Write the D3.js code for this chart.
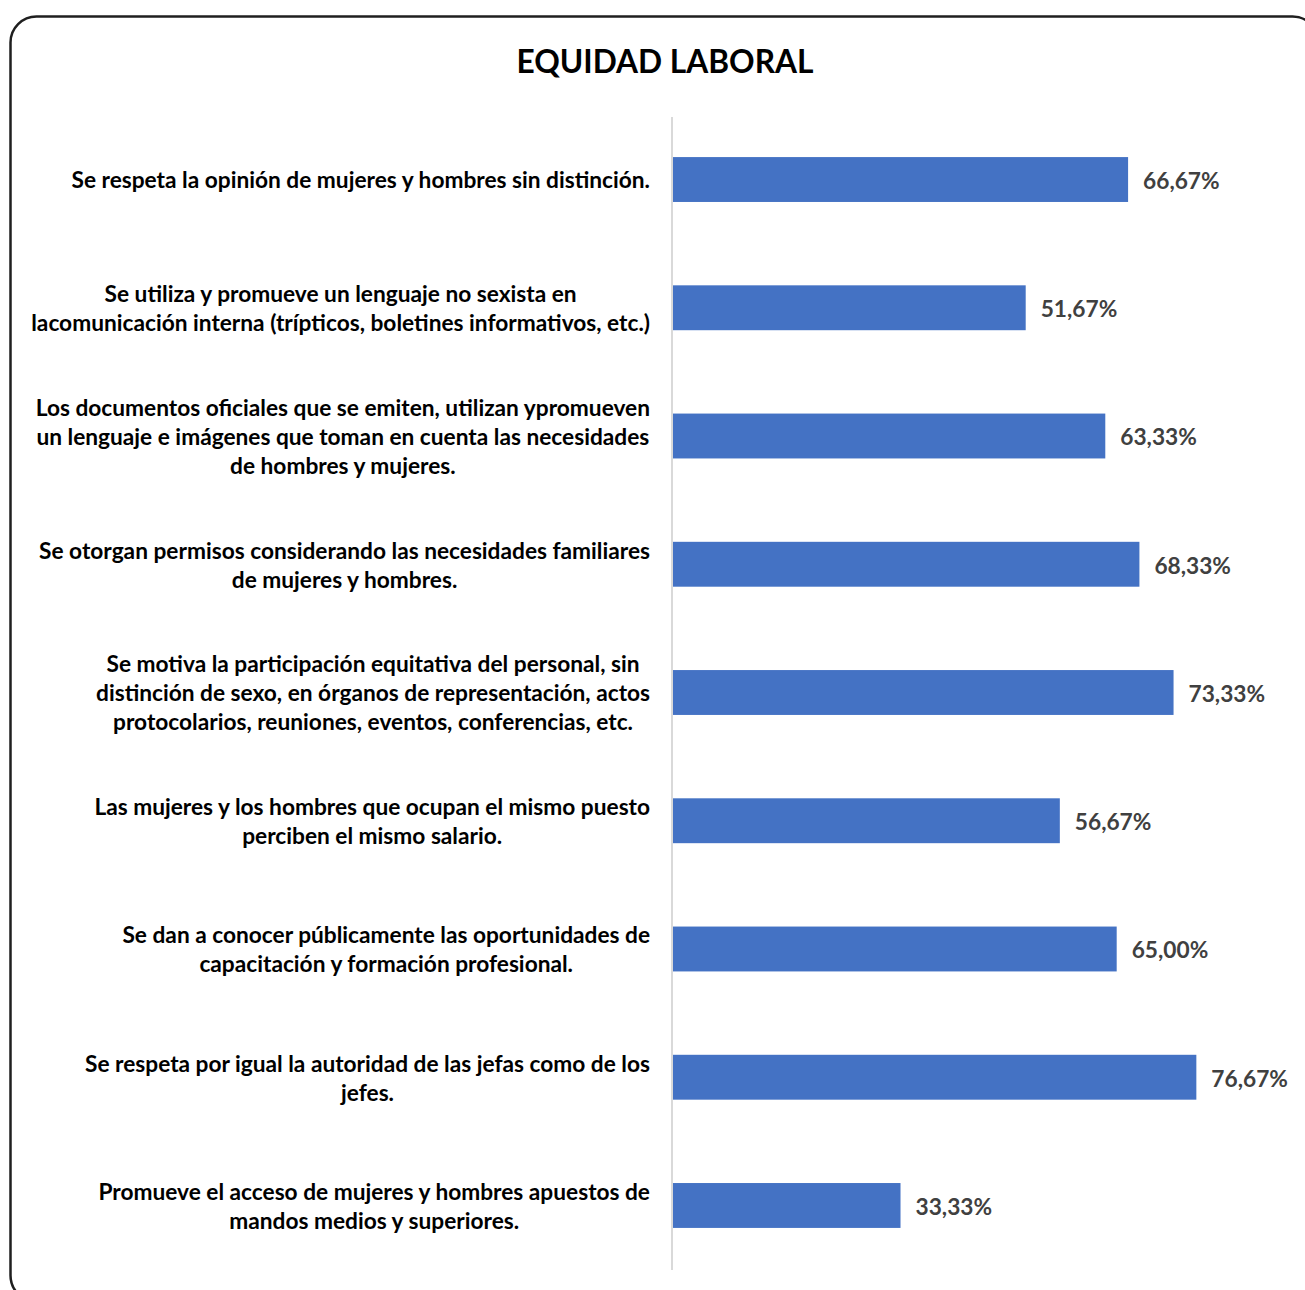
<!DOCTYPE html>
<html><head><meta charset="utf-8">
<script src="https://cdn.jsdelivr.net/npm/d3@7"></script>
<style>html,body{margin:0;padding:0;background:#fff;overflow:hidden}</style>
</head><body>
<svg id="chart" width="1305" height="1290"></svg>
<script>
const title = "EQUIDAD LABORAL";
const categories = [
  "Se respeta la opinión de mujeres y hombres sin distinción.",
  "Se utiliza y promueve un lenguaje no sexista en\nlacomunicación interna (trípticos, boletines informativos, etc.)",
  "Los documentos oficiales que se emiten, utilizan ypromueven\nun lenguaje e imágenes que toman en cuenta las necesidades\nde hombres y mujeres.",
  "Se otorgan permisos considerando las necesidades familiares\nde mujeres y hombres.",
  "Se motiva la participación equitativa del personal, sin\ndistinción de sexo, en órganos de representación, actos\nprotocolarios, reuniones, eventos, conferencias, etc.",
  "Las mujeres y los hombres que ocupan el mismo puesto\nperciben el mismo salario.",
  "Se dan a conocer públicamente las oportunidades de\ncapacitación y formación profesional.",
  "Se respeta por igual la autoridad de las jefas como de los\njefes.",
  "Promueve el acceso de mujeres y hombres apuestos de\nmandos medios y superiores."
];
const values = [66.67, 51.67, 63.33, 68.33, 73.33, 56.67, 65.00, 76.67, 33.33];

const svg = d3.select("#chart");
const FONT = "Lato, 'Open Sans', sans-serif";

// frame
svg.append("rect").attr("x",10.5).attr("y",16.5).attr("width",1308).attr("height",1285)
  .attr("rx",26).attr("fill","#fff").attr("stroke","#1f1f1f").attr("stroke-width",2.5);

// title
const t = svg.append("text").attr("x",665).attr("y",73).attr("text-anchor","middle")
  .attr("font-family",FONT).attr("font-weight","bold").attr("font-size",30).attr("fill","#000").text(title);
const tw = t.node().getComputedTextLength();
t.attr("font-size", 30*297/tw);

const x0 = 673;
const x = d3.scaleLinear().domain([0,100]).range([x0, x0+682.6]);
const y = d3.scaleBand().domain(d3.range(categories.length)).range([115.4,1269.6]).paddingInner(0.65).paddingOuter(0.325);

// axis line
svg.append("line").attr("x1",672).attr("x2",672).attr("y1",117).attr("y2",1270)
  .attr("stroke","#d9d9d9").attr("stroke-width",2);

// bars
svg.selectAll("rect.bar").data(values).join("rect").attr("class","bar")
  .attr("x",x0).attr("y",(d,i)=>y(i)).attr("width",d=>x(d)-x0).attr("height",y.bandwidth())
  .attr("fill","#4472C4");

// measure label font size
const probe = svg.append("text").attr("font-family",FONT).attr("font-weight","bold").attr("font-size",20).text(categories[0].split("\n")[0]);
const pw = probe.node().getComputedTextLength();
probe.remove();
const LFS = 20*579/pw;

// category labels
const lineH = 29;
categories.forEach((c,i)=>{
  const lines = c.split("\n");
  const g = svg.append("text").attr("font-family",FONT).attr("font-weight","bold").attr("font-size",LFS)
    .attr("fill","#000").attr("text-anchor","middle");
  const cy = y(i)+y.bandwidth()/2 + 1;
  const n = lines.length;
  lines.forEach((l,k)=>{
    g.append("tspan").attr("x",0).attr("y", cy + (k-(n-1)/2)*lineH).attr("dy","0.35em").text(l);
  });
  let maxW = 0;
  g.selectAll("tspan").each(function(){ maxW = Math.max(maxW, this.getComputedTextLength()); });
  const cx = 650 - maxW/2;
  g.selectAll("tspan").attr("x",cx);
});

// value labels
const fmt = d => d.toFixed(2).replace(".",",")+"%";
svg.selectAll("text.val").data(values).join("text").attr("class","val")
  .attr("x",d=>x(d)+15).attr("y",(d,i)=>y(i)+y.bandwidth()/2 + 1.5).attr("dy","0.35em")
  .attr("font-family",FONT).attr("font-weight","bold").attr("font-size",LFS).attr("fill","#404040")
  .text(fmt);
</script>
</body></html>
